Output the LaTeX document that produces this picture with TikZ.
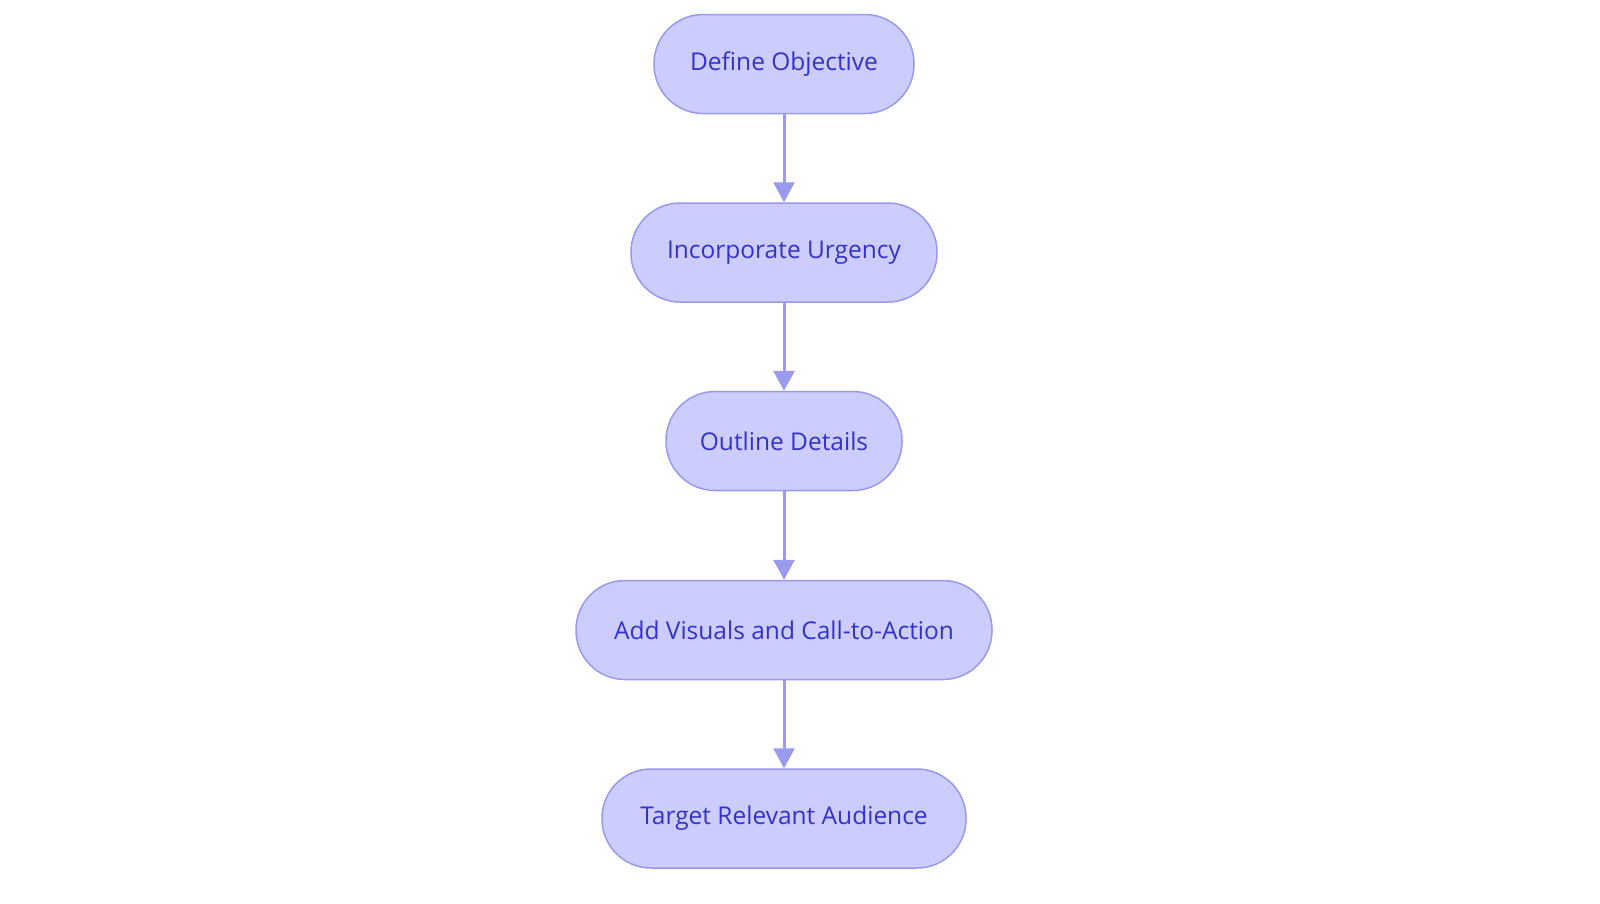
\documentclass[tikz,border=0pt]{standalone}
\usepackage{fontspec}
\setmainfont{Open Sans}
\usetikzlibrary{arrows.meta}
\definecolor{nodefill}{HTML}{CCCCFF}
\definecolor{nodeline}{HTML}{9999EE}
\definecolor{txt}{HTML}{3333CC}
\definecolor{arr}{HTML}{9A9AEE}
\begin{document}
\begin{tikzpicture}[x=1pt,y=-1pt,
  stage/.style={draw=nodeline, fill=nodefill, line width=1.5pt, rounded corners=49pt,
    minimum height=99pt, inner sep=0pt, text=txt, font=\fontsize{24.5}{28}\selectfont},
  flow/.style={draw=arr, line width=3pt, -{Triangle[width=21pt,length=20pt]}}]
\useasboundingbox (0,0) rectangle (1600,903);
\node[stage, minimum width=260pt] (a) at (784,64) {Define Objective};
\node[stage, minimum width=306pt] (b) at (784,252.5) {Incorporate Urgency};
\node[stage, minimum width=236pt] (c) at (784,441) {Outline Details};
\node[stage, minimum width=416pt] (d) at (784,630) {Add Visuals and Call-to-Action};
\node[stage, minimum width=364pt] (e) at (784,818.5) {Target Relevant Audience};
\draw[flow] (a) -- (b);
\draw[flow] (b) -- (c);
\draw[flow] (c) -- (d);
\draw[flow] (d) -- (e);
\end{tikzpicture}
\end{document}
